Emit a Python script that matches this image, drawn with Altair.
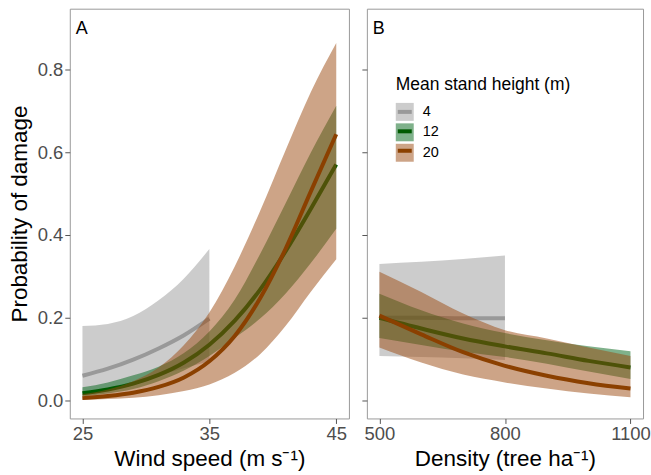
import altair as alt
import pandas as pd

heights = ["4", "12", "20"]
fill_colors = ["#999999", "#006418", "#9c4a10"]
line_colors = ["#999999", "#005a00", "#8b4000"]
panel_labels = ["A", "B"]

# Panel A: wind speed
wind = [25, 27, 29, 31, 33, 35, 37, 39, 41, 43, 45]
wind_fit_4 = [0.060, 0.077, 0.099, 0.126, 0.158, 0.198]
wind_lo_4 = [0.018, 0.030, 0.045, 0.061, 0.078, 0.095]
wind_hi_4 = [0.180, 0.185, 0.204, 0.242, 0.295, 0.366]
wind_fit_12 = [0.018, 0.027, 0.041, 0.062, 0.092, 0.135, 0.193, 0.268, 0.360, 0.463, 0.570]
wind_lo_12 = [0.010, 0.017, 0.028, 0.047, 0.073, 0.108, 0.151, 0.198, 0.258, 0.332, 0.415]
wind_hi_12 = [0.032, 0.044, 0.061, 0.082, 0.115, 0.167, 0.244, 0.354, 0.476, 0.599, 0.712]
wind_fit_20 = [0.006, 0.011, 0.019, 0.033, 0.056, 0.095, 0.156, 0.247, 0.366, 0.505, 0.643]
wind_lo_20 = [0.002, 0.004, 0.007, 0.013, 0.023, 0.039, 0.067, 0.112, 0.180, 0.263, 0.341]
wind_hi_20 = [0.016, 0.027, 0.047, 0.080, 0.134, 0.213, 0.324, 0.458, 0.604, 0.745, 0.863]

# Panel B: density
density = [500, 600, 700, 800, 900, 1000, 1100]
dens_fit_4 = [0.200, 0.200, 0.199, 0.199]
dens_lo_4 = [0.108, 0.105, 0.102, 0.098]
dens_hi_4 = [0.330, 0.335, 0.342, 0.350]
dens_fit_12 = [0.200, 0.174, 0.150, 0.131, 0.114, 0.096, 0.080]
dens_lo_12 = [0.151, 0.134, 0.118, 0.105, 0.089, 0.070, 0.052]
dens_hi_12 = [0.258, 0.218, 0.186, 0.163, 0.146, 0.131, 0.119]
dens_fit_20 = [0.205, 0.160, 0.117, 0.084, 0.060, 0.042, 0.029]
dens_lo_20 = [0.128, 0.092, 0.063, 0.044, 0.029, 0.017, 0.008]
dens_hi_20 = [0.311, 0.262, 0.210, 0.170, 0.150, 0.128, 0.108]

y_ticks = [0.0, 0.2, 0.4, 0.6, 0.8]
wind_ticks = [25, 35, 45]
dens_ticks = [500, 800, 1100]


def build(xs, series):
    rows = []
    for h, (fit, lo, hi) in zip(heights, series):
        for x, f, l, u in zip(xs, fit, lo, hi):
            rows.append({"x": x, "fit": f, "lo": l, "hi": u, "height": h})
    return pd.DataFrame(rows)


dfA = build(wind, [(wind_fit_4, wind_lo_4, wind_hi_4),
                   (wind_fit_12, wind_lo_12, wind_hi_12),
                   (wind_fit_20, wind_lo_20, wind_hi_20)])
dfB = build(density, [(dens_fit_4, dens_lo_4, dens_hi_4),
                      (dens_fit_12, dens_lo_12, dens_hi_12),
                      (dens_fit_20, dens_lo_20, dens_hi_20)])

FONT = "Liberation Sans"
y_scale = alt.Scale(domain=[-0.043, 0.946], nice=False, zero=False)

LEG_X = 29
LEG_Y = 68
LEG_TITLE = "Mean stand height (m)"


def panel(df, xtitle, xdomain, xticks, ylabels, label, legend_on):
    x_enc = alt.X("x:Q", scale=alt.Scale(domain=xdomain, nice=False, zero=False),
                  axis=alt.Axis(values=xticks, title=xtitle, format="d"))
    yaxis = alt.Axis(values=y_ticks, format=".1f", labels=ylabels,
                     title="Probability of damage" if ylabels else None)
    if legend_on:
        fill_leg = alt.Legend(orient="none", legendX=LEG_X, legendY=LEG_Y, padding=0,
                              title=LEG_TITLE, symbolType="square",
                              symbolSize=324, symbolStrokeWidth=0, symbolOpacity=0.5)
        stroke_leg = alt.Legend(orient="none", legendX=LEG_X, legendY=LEG_Y, padding=0,
                                title=" ", symbolType="stroke",
                                symbolSize=196, symbolStrokeWidth=4,
                                labelExpr="''")
    else:
        fill_leg = None
        stroke_leg = None
    fill_enc = alt.Fill("height:N", scale=alt.Scale(domain=heights, range=fill_colors),
                        legend=fill_leg)
    stroke_enc = alt.Stroke("height:N", sort=heights,
                            scale=alt.Scale(range=line_colors), legend=stroke_leg)
    base = alt.Chart(df)
    layers = []
    for h in heights:
        sub = base.transform_filter(alt.datum.height == h)
        layers.append(sub.mark_area(opacity=0.5, interpolate="monotone").encode(
            x=x_enc, y=alt.Y("lo:Q", scale=y_scale, axis=yaxis), y2="hi:Q", fill=fill_enc))
        layers.append(sub.mark_line(strokeWidth=4, interpolate="monotone").encode(
            x=x_enc, y=alt.Y("fit:Q", scale=y_scale, axis=yaxis), stroke=stroke_enc))
    tag = alt.Chart(pd.DataFrame({"label": [label]})).mark_text(
        align="left", baseline="alphabetic", fontSize=18, color="black", font=FONT
    ).encode(text="label:N", x=alt.value(6), y=alt.value(25))
    layers.append(tag)
    return alt.layer(*layers).properties(width=280 if ylabels else 277, height=411)


A = panel(dfA, "Wind speed (m s⁻¹)", [24, 46], wind_ticks, True, panel_labels[0], False)
B = panel(dfB, "Density (tree ha⁻¹)", [470, 1130], dens_ticks, False, panel_labels[1], True)

chart = alt.hconcat(A, B, spacing=11).resolve_scale(
    fill="independent", stroke="independent"
).properties(
    padding={"left": 7, "top": 7, "right": 0, "bottom": 0}
).configure(font=FONT).configure_view(
    stroke="#9a9a9a", strokeWidth=1
).configure_axis(
    grid=False, domain=False, ticks=True, tickColor="#555555", tickSize=5,
    labelFont=FONT, labelFontSize=18.5, labelColor="#4d4d4d", labelPadding=2,
    titleFont=FONT, titleFontSize=22.5, titleColor="black", titleFontWeight="normal",
).configure_axisX(titlePadding=5, labelPadding=1).configure_axisY(titlePadding=6).configure_legend(
    titleFont=FONT, titleFontSize=17.5, titleFontWeight="normal", titleColor="black",
    labelFont=FONT, labelFontSize=14.5, labelColor="black", titlePadding=9,
    rowPadding=2.5, labelOffset=9,
)

chart.save("out.html", embed_options={"renderer": "svg", "actions": False})
